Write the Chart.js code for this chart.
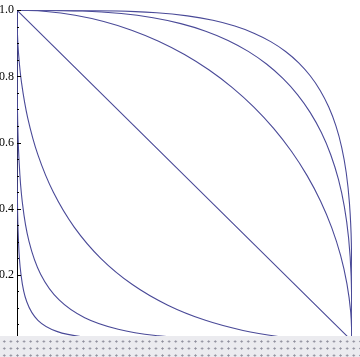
<!DOCTYPE html>
<html>
<head>
<meta charset="utf-8">
<script src="https://cdn.jsdelivr.net/npm/chart.js@4/dist/chart.umd.min.js"></script>
<style>
  html, body { margin: 0; padding: 0; background: #fff; }
  #wrap { position: relative; width: 360px; height: 357px; }
  #band {
    position: absolute; left: 0; top: 336px; width: 360px; height: 21px;
    background-color: #ebebef;
    background-image: radial-gradient(circle, #8e8e9c 0.8px, rgba(0,0,0,0) 1.4px);
    background-size: 6.6px 7px;
    background-position: 1px 2px;
  }
</style>
</head>
<body>
<div id="wrap">
  <canvas id="chart" width="360" height="357"></canvas>
  <div id="band"></div>
</div>
<script>
// Curves x^p + y^p = 1, x ascending

// p = 2
const circleX = [0, 0.08716, 0.17365, 0.25882, 0.34202, 0.42262, 0.5, 0.57358, 0.64279, 0.70711, 0.76604, 0.81915, 0.86603, 0.90631, 0.93969, 0.96593, 0.98481, 0.99619, 1];
const circleY = [1, 0.99619, 0.98481, 0.96593, 0.93969, 0.90631, 0.86603, 0.81915, 0.76604, 0.70711, 0.64279, 0.57358, 0.5, 0.42262, 0.34202, 0.25882, 0.17365, 0.08716, 0];

// p = 3
const cubeX = [0, 0.19660, 0.31126, 0.40613, 0.48906, 0.56316, 0.62996, 0.69034, 0.74482, 0.79370, 0.83723, 0.87547, 0.90856, 0.93652, 0.95938, 0.97715, 0.98985, 0.99746, 1];
const cubeY = [1, 0.99746, 0.98985, 0.97715, 0.95938, 0.93652, 0.90856, 0.87547, 0.83723, 0.79370, 0.74482, 0.69034, 0.62996, 0.56316, 0.48906, 0.40613, 0.31126, 0.19660, 0];

// p = 4
const quartX = [0, 0.29523, 0.41671, 0.50875, 0.58483, 0.65009, 0.70711, 0.75735, 0.80174, 0.84090, 0.87524, 0.90507, 0.93060, 0.95201, 0.96938, 0.98282, 0.99237, 0.99810, 1];
const quartY = [1, 0.99810, 0.99237, 0.98282, 0.96938, 0.95201, 0.93060, 0.90507, 0.87524, 0.84090, 0.80174, 0.75735, 0.70711, 0.65009, 0.58483, 0.50875, 0.41671, 0.29523, 0];

// p = 1
const lineX = [0, 1];
const lineY = [1, 0];

// p = 1/2
const halfX = [0, 0.0000577, 0.000909, 0.0044873, 0.013684, 0.031902, 0.0625, 0.108234, 0.17072, 0.25, 0.34436, 0.450254, 0.5625, 0.674682, 0.77973, 0.870508, 0.94060, 0.98484, 1];
const halfY = [1, 0.98484, 0.94060, 0.870508, 0.77973, 0.674682, 0.5625, 0.450254, 0.34436, 0.25, 0.17072, 0.108234, 0.0625, 0.031902, 0.013684, 0.0044873, 0.000909, 0.0000577, 0];

// p = 1/3
const thirdX = [0, 0.0000004, 0.0000274, 0.00030059, 0.001601, 0.005698, 0.015625, 0.035608, 0.07054, 0.125, 0.20208, 0.302125, 0.42188, 0.554178, 0.68852, 0.812192, 0.91224, 0.97735, 1];
const thirdY = [1, 0.97735, 0.91224, 0.812192, 0.68852, 0.554178, 0.42188, 0.302125, 0.20208, 0.125, 0.07054, 0.035608, 0.015625, 0.005698, 0.001601, 0.00030059, 0.0000274, 0.0000004, 0];

// p = 1/4
const quarterX = [0, 0.0000000033, 0.00000083, 0.00002014, 0.000187, 0.0010177, 0.003906, 0.011715, 0.029145, 0.0625, 0.11858, 0.202729, 0.31641, 0.455196, 0.60798, 0.757784, 0.88473, 0.96991, 1];
const quarterY = [1, 0.96991, 0.88473, 0.757784, 0.60798, 0.455196, 0.31641, 0.202729, 0.11858, 0.0625, 0.029145, 0.011715, 0.003906, 0.0010177, 0.000187, 0.00002014, 0.00000083, 0.0000000033, 0];

const yTickStep = 0.05;
const yLabelStep = 0.2;

const LINE_COLOR = '#4a4a98';

function pts(xs, ys) {
  return xs.map((x, i) => ({ x, y: ys[i] }));
}

const curves = [
  [quarterX, quarterY],
  [thirdX, thirdY],
  [halfX, halfY],
  [lineX, lineY],
  [circleX, circleY],
  [cubeX, cubeY],
  [quartX, quartY],
];

// ticks point into the plot, Mathematica style
const innerTicks = {
  id: 'innerTicks',
  afterDraw(chart) {
    const ctx = chart.ctx;
    const y = chart.scales.y;
    const left = chart.chartArea.left;
    ctx.save();
    ctx.strokeStyle = '#000';
    ctx.lineWidth = 1;
    y.ticks.forEach(t => {
      const major = Math.round(t.value * 100) % 20 === 0;
      const py = Math.round(y.getPixelForValue(t.value)) + 0.5;
      ctx.beginPath();
      ctx.moveTo(left, py);
      ctx.lineTo(left + (major ? 4 : 2), py);
      ctx.stroke();
    });
    ctx.restore();
  },
};

new Chart(document.getElementById('chart'), {
  type: 'scatter',
  data: {
    datasets: curves.map(([xs, ys]) => ({
      data: pts(xs, ys),
      showLine: true,
      borderColor: LINE_COLOR,
      borderWidth: 1.1,
      pointRadius: 0,
      tension: 0.4,
    })),
  },
  options: {
    responsive: false,
    animation: false,
    layout: { padding: { left: 0, top: 5, right: 8, bottom: 16 } },
    scales: {
      x: { type: 'linear', min: 0, max: 1, display: false },
      y: {
        type: 'linear',
        min: 0,
        max: 1,
        afterFit(scale) { scale.width = 17; },
        border: { display: true, color: '#000', width: 1 },
        grid: { drawOnChartArea: false, drawTicks: false },
        ticks: {
          stepSize: yTickStep,
          autoSkip: false,
          padding: 3,
          color: '#000',
          font: { family: 'Liberation Serif', size: 12 },
          callback: (v) => (Math.round(v * 100) % Math.round(yLabelStep * 100) === 0 ? v.toFixed(1) : ''),
        },
      },
    },
    plugins: { legend: { display: false }, tooltip: { enabled: false } },
  },
  plugins: [innerTicks],
});
</script>
</body>
</html>
